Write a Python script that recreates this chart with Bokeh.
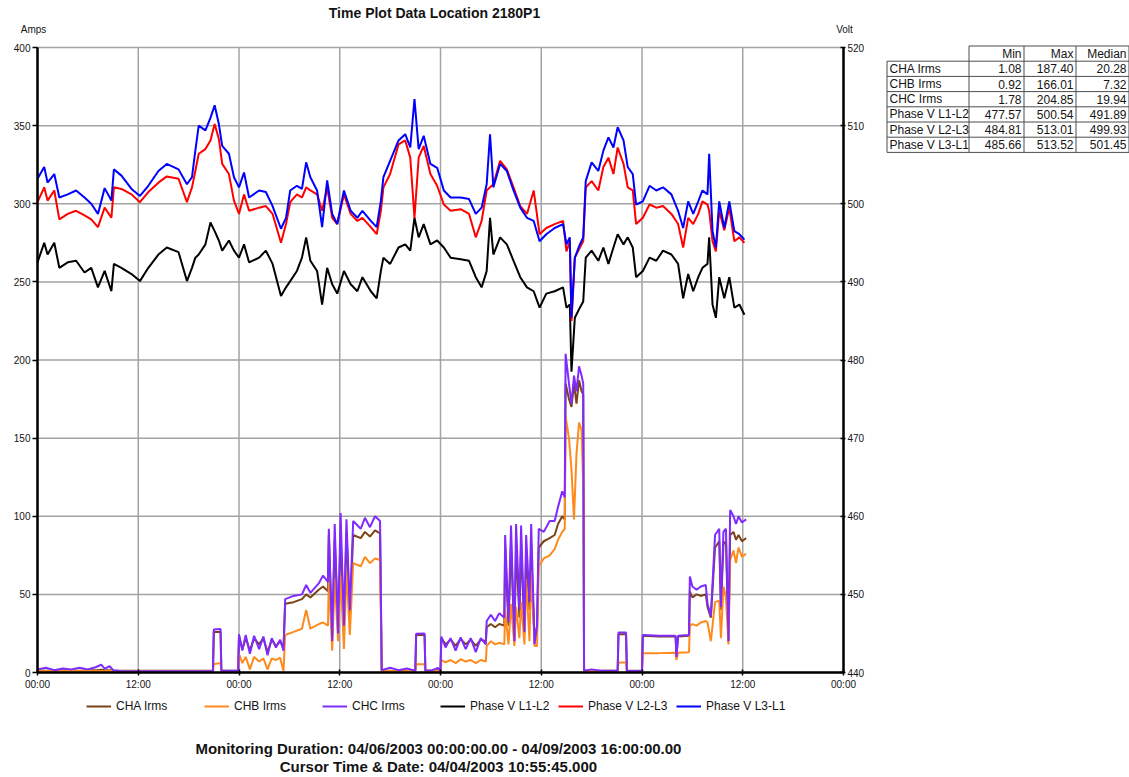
import numpy as np
from bokeh.plotting import figure
from bokeh.models import Range1d, LinearAxis, Label, Legend, LegendItem, FixedTicker
from bokeh.embed import file_html
from bokeh.resources import INLINE
from bokeh.core.properties import value

FONT = "Liberation Sans"

# ---------------- text ----------------
title_text = "Time Plot Data Location 2180P1"
left_unit = "Amps"
right_unit = "Volt"
duration_text = "Monitoring Duration:  04/06/2003 00:00:00.00 - 04/09/2003 16:00:00.00"
cursor_text = "Cursor Time & Date:  04/04/2003 10:55:45.000"

# ---------------- ticks ----------------
tick_hours = [0, 12, 24, 36, 48, 60, 72, 84, 96]
tick_labels = ["00:00", "12:00", "00:00", "12:00", "00:00", "12:00", "00:00", "12:00", "00:00"]
amps_ticks = [0, 50, 100, 150, 200, 250, 300, 350, 400]
volt_ticks = [440, 450, 460, 470, 480, 490, 500, 510, 520]

# ---------------- voltages (hours from 04/06 00:00) ----------------
v_hours = [0, 0.8, 1.2, 2, 2.6, 3.6, 4.6, 5.6, 6.4, 7.2, 8, 8.8, 9.1, 10, 11.2, 12.2, 13.2, 14.4,
           15.4, 16.8, 17.8, 18.4, 18.8, 19.2, 20, 20.6, 21.1, 21.6, 22, 22.8, 23.4, 24, 24.6, 25.2,
           26.4, 27.2, 28, 29, 29.6,
           30.1, 30.9, 31.5, 32, 32.5, 33.3, 33.9, 34.5, 35.1, 35.7, 36.5, 37.3, 38.1, 38.7, 39.7,
           40.4, 40.9, 41.2, 42, 43, 43.8, 44.4, 44.9, 45.4, 46, 46.8, 47.6, 48.4, 49.2, 50.4, 51.4,
           52.2, 52.9, 53.5, 53.9, 54.3, 55.1, 55.9, 56.7, 57.5, 58.3, 59.1,
           59.8, 60.6, 61.6, 62.6, 63, 63.4, 63.6, 64, 64.6, 65, 65.3, 66, 66.8, 67.4, 68, 68.6, 69.1,
           69.8, 70.3, 70.9, 71.3, 72.1, 72.9, 73.7, 74.5, 75.5, 76.3, 76.9, 77.5, 78.1, 78.7, 79.2,
           79.8, 80, 80.4, 80.8, 81.2, 81.8, 82.4, 83, 83.6, 84.2]

v_l3l1 = [503.2, 504.7, 502.7, 503.8, 500.8, 501.2, 501.7, 500.8, 500.0, 498.7, 502.0, 500.4, 504.4,
          503.6, 501.9, 501.0, 502.3, 504.2, 505.1, 504.4, 502.5, 503.4, 506.8, 510.0, 509.4, 511.0,
          512.6, 510.2, 507.4, 506.4, 503.4, 502.1, 504.0, 500.8, 501.7, 501.5, 499.7, 496.8, 498.2,
          501.7, 502.3, 501.9, 505.3, 503.4, 501.7, 497.0, 503.0, 498.7, 497.4, 501.7, 499.1, 498.2,
          499.1, 497.8, 497.0, 500.4, 503.4, 505.5, 508.1, 508.9, 507.2, 513.4, 507.0, 508.7, 505.1,
          504.6, 501.7, 500.8, 500.8, 500.6, 498.7, 499.5, 502.5, 508.9, 502.1, 505.1, 504.2, 501.7,
          499.5, 498.2, 497.8,
          495.2, 496.1, 496.9, 497.4, 494.8, 495.7, 485.4, 493.1, 494.8, 495.7, 502.9, 505.3, 504.2,
          506.8, 508.5, 507.2, 509.8, 508.1, 504.7, 503.8, 499.9, 500.3, 502.3, 501.7, 502.1, 501.2,
          499.1, 496.9, 500.3, 498.7, 500.3, 501.7, 501.2, 506.4, 496.5, 494.4, 500.3, 496.9, 500.3,
          496.5, 496.1, 495.4]

v_l2l3 = [500.2, 502.1, 500.4, 501.7, 498.0, 498.7, 499.1, 498.5, 498.0, 497.0, 499.5, 498.2, 502.1,
          501.9, 501.2, 500.2, 501.5, 502.7, 503.5, 503.2, 500.2, 502.1, 504.2, 506.4, 507.0, 508.1,
          510.2, 508.3, 505.1, 503.8, 500.4, 498.7, 501.2, 499.1, 499.5, 499.7, 498.7, 495.0, 497.4,
          500.2, 501.2, 500.8, 502.1, 501.7, 501.2, 499.1, 502.1, 498.2, 497.4, 501.2, 498.7, 497.8,
          498.2, 497.0, 496.1, 499.1, 502.1, 503.8, 507.6, 508.1, 505.9, 498.2, 505.9, 507.4, 503.8,
          502.3, 499.9, 499.1, 499.3, 498.7, 495.7, 497.8, 501.7, 502.1, 502.5, 505.5, 504.4, 502.1,
          499.7, 498.7, 501.7,
          496.1, 496.9, 497.4, 497.8, 493.9, 495.2, 485.0, 493.1, 494.4, 495.2, 502.1, 502.9, 501.7,
          504.7, 505.9, 503.8, 507.2, 505.1, 502.1, 501.7, 497.4, 498.2, 499.9, 499.5, 499.7, 498.7,
          497.4, 494.4, 498.2, 497.4, 498.7, 500.3, 499.9, 499.1, 495.2, 493.9, 499.1, 496.6, 499.5,
          495.2, 495.7, 495.0]

v_l1l2 = [492.5, 495.0, 493.5, 495.0, 491.8, 492.5, 492.7, 491.2, 491.8, 489.3, 491.4, 488.8, 492.3,
          491.8, 491.0, 490.1, 491.8, 493.5, 494.4, 493.8, 490.1, 491.8, 493.1, 493.5, 494.8, 497.6,
          496.5, 495.3, 494.0, 495.3, 494.0, 493.1, 494.8, 492.5, 493.1, 494.0, 492.3, 488.2, 489.3,
          490.1, 491.4, 493.1, 495.7, 492.7, 491.4, 487.1, 491.8, 489.7, 488.5, 491.4, 489.7, 488.8,
          490.6, 488.8, 487.9, 491.4, 493.1, 492.3, 494.4, 494.8, 494.0, 498.2, 495.7, 497.4, 494.8,
          495.3, 494.4, 493.1, 492.9, 492.7, 490.6, 489.3, 491.4, 498.2, 493.5, 495.7, 494.8, 492.7,
          490.6, 489.3, 488.8,
          486.7, 488.5, 488.8, 489.3, 486.7, 487.1, 478.5, 485.4, 486.7, 487.5, 493.1, 494.0, 492.7,
          494.4, 492.3, 494.4, 496.1, 494.8, 495.7, 494.4, 490.6, 491.4, 493.1, 492.7, 494.0, 493.5,
          492.3, 487.9, 491.0, 488.8, 490.6, 491.8, 492.3, 495.7, 487.1, 485.4, 490.6, 487.9, 490.6,
          486.7, 487.1, 485.8]

# ---------------- currents ----------------
i_hours = [0.0, 1.0, 2.0, 3.0, 4.0, 5.0, 6.0, 7.0, 7.6, 8.0, 8.6, 9.0, 10.0, 15.0, 20.9,
           21.0, 21.8, 21.9, 23.9,
           24.0, 24.4, 24.8, 25.3, 25.8, 26.4, 26.9, 27.4, 27.9, 28.4, 28.9, 29.3,
           29.5, 30.5, 31.5, 32.0, 32.5, 33.5, 34.0, 34.6,
           34.7, 35.1, 35.4, 35.8, 36.1, 36.5, 36.8, 37.2, 37.6, 38.5, 39.0, 39.6, 40.2, 40.8,
           41.0, 42.0, 43.0, 44.0, 45.0, 45.1, 46.1, 46.2, 47.0, 47.7, 48.0,
           48.1, 48.6, 49.2, 49.8, 50.4, 51.0, 51.6, 52.2, 52.8, 53.4,
           53.5, 54.0, 54.5, 55.0, 55.6,
           55.7, 56.1, 56.4, 56.8, 57.0, 57.4, 57.6, 58.0, 58.2, 58.6, 58.8, 59.2, 59.5,
           59.7, 60.3, 61.0, 61.6, 62.0, 62.5, 62.8,
           62.9, 63.3, 63.6, 63.9, 64.2, 64.5, 64.8, 65.0,
           65.1, 66.0, 67.0, 68.0, 69.1, 69.2, 70.1, 70.2, 72.0,
           72.1, 74.0, 76.0, 76.1, 76.3, 77.6,
           77.7, 78.0, 78.5, 79.0, 79.6, 79.8, 80.2,
           80.7, 81.2, 81.4, 81.7, 82.0, 82.3, 82.5, 82.9, 83.2, 83.5, 83.9, 84.4]

cha = [1.5, 1.2, 1.5, 1.3, 1.4, 1.2, 1.5, 1.4, 1.8, 1.4, 1.5, 1.1, 1.1, 1.1, 1.1,
       26.0, 26.0, 1.1, 1.1,
       23.0, 15.0, 22.0, 14.0, 22.0, 18.0, 22.0, 13.0, 21.0, 17.0, 20.0, 16.0,
       44.0, 45.0, 47.0, 50.0, 48.0, 53.0, 55.0, 52.0,
       88.0, 22.0, 85.0, 30.0, 88.0, 28.0, 90.0, 35.0, 88.0, 86.0, 90.0, 87.0, 91.0, 89.0,
       1.2, 1.2, 1.0, 1.2, 1.1, 24.0, 24.0, 1.2, 1.1, 1.5, 1.1,
       22.0, 18.0, 21.0, 17.0, 21.5, 18.0, 21.0, 17.0, 21.0, 20.0,
       29.0, 31.0, 29.0, 31.0, 30.0,
       80.0, 30.0, 82.0, 20.0, 80.0, 35.0, 82.0, 25.0, 75.0, 40.0, 80.0, 20.0, 30.0,
       80.0, 84.0, 86.0, 88.0, 95.0, 100.0, 98.0,
       185.0, 175.0, 170.0, 185.0, 172.0, 187.0, 180.0, 178.0,
       1.2, 1.1, 1.1, 1.1, 1.1, 24.5, 24.5, 1.1, 1.1,
       23.5, 23.0, 23.0, 11.0, 23.0, 23.5,
       52.0, 48.0, 50.0, 49.0, 50.0, 42.0, 35.0,
       80.0, 84.0, 40.0, 82.0, 84.0, 20.0, 88.0, 90.0, 85.0, 88.0, 84.0, 86.0]

chb = [1.0, 0.9, 1.0, 1.0, 1.0, 0.9, 1.0, 1.0, 1.0, 1.0, 1.0, 0.9, 0.9, 0.9, 0.9,
       5.5, 6.0, 0.9, 0.9,
       12.0, 6.0, 10.0, 2.0, 10.0, 7.0, 9.0, 2.0, 9.0, 8.0, 9.5, 1.0,
       24.0, 26.0, 28.0, 40.0, 28.0, 31.0, 32.0, 30.0,
       62.0, 14.0, 60.0, 20.0, 62.0, 15.0, 65.0, 24.0, 70.0, 68.0, 74.0, 70.0, 73.0, 72.0,
       0.9, 0.9, 0.9, 0.9, 0.9, 5.3, 5.3, 0.9, 0.9, 0.9, 0.9,
       8.0, 6.5, 8.0, 6.0, 8.5, 7.0, 8.0, 6.0, 8.0, 7.0,
       17.0, 20.0, 18.0, 19.0, 18.0,
       40.0, 18.0, 44.0, 17.0, 42.0, 22.0, 45.0, 18.0, 60.0, 20.0, 65.0, 17.0, 17.0,
       68.0, 73.0, 75.0, 79.0, 85.0, 90.0, 92.0,
       164.0, 150.0, 130.0, 98.0, 140.0, 160.0, 155.0, 120.0,
       0.9, 0.9, 0.9, 0.9, 0.9, 6.4, 6.4, 0.9, 0.9,
       12.4, 12.4, 12.6, 8.0, 12.6, 13.0,
       30.0, 31.0, 30.0, 32.0, 33.0, 32.0, 20.0,
       45.0, 46.0, 22.0, 55.0, 48.0, 18.0, 72.0, 78.0, 70.0, 80.0, 74.0, 76.0]

chc = [2.0, 3.0, 1.5, 2.5, 2.0, 3.0, 2.0, 3.5, 5.0, 2.5, 4.0, 1.5, 0.8, 0.8, 0.8,
       27.5, 27.8, 1.2, 1.2,
       24.5, 14.0, 24.0, 12.0, 23.5, 15.0, 23.0, 11.0, 22.0, 16.0, 21.0, 14.0,
       47.0, 49.0, 50.0, 56.0, 51.0, 57.0, 62.0, 58.0,
       92.0, 20.0, 95.0, 25.0, 102.0, 30.0, 98.0, 40.0, 97.0, 92.0, 99.0, 93.0, 100.0, 97.0,
       1.5, 3.0, 1.5, 2.5, 1.2, 24.8, 25.0, 1.2, 1.5, 3.0, 1.0,
       23.0, 16.0, 22.0, 14.0, 22.5, 15.0, 22.0, 13.0, 22.0, 18.0,
       33.0, 37.0, 33.0, 38.0, 35.0,
       88.0, 32.0, 94.0, 20.0, 95.0, 40.0, 94.0, 26.0, 88.0, 45.0, 95.0, 18.0, 30.0,
       92.0, 90.0, 97.0, 97.0, 106.0, 116.0, 112.0,
       204.0, 185.0, 172.0, 190.0, 180.0, 196.0, 190.0, 185.0,
       1.2, 2.0, 1.2, 1.2, 1.2, 25.6, 25.6, 1.0, 1.0,
       24.0, 23.5, 23.5, 10.0, 23.5, 24.0,
       61.5, 55.0, 53.0, 55.0, 56.0, 44.0, 36.0,
       88.0, 92.0, 42.0, 90.0, 92.0, 20.0, 104.0, 100.0, 95.0, 100.0, 96.0, 98.0]

# ---------------- statistics table ----------------
table_rows = ["CHA Irms", "CHB Irms", "CHC Irms", "Phase V L1-L2", "Phase V L2-L3", "Phase V L3-L1"]
table_min = [1.08, 0.92, 1.78, 477.57, 484.81, 485.66]
table_max = [187.40, 166.01, 204.85, 500.54, 513.01, 513.52]
table_median = [20.28, 7.32, 19.94, 491.89, 499.93, 501.45]
table_header = ["Min", "Max", "Median"]

# ---------------- styles / layout ----------------
C_CHA = "#7b4416"
C_CHB = "#ff8a1c"
C_CHC = "#7f2aff"
C_L1 = "#000000"
C_L2 = "#ff0000"
C_L3 = "#0000ff"
GRID = "#a3a3a3"
TXT = "#141414"

W, H = 1129, 777
PX_L, PX_R, PX_T, PX_B = 37, 843, 47, 672      # page pixels of the plotting area

# the whole canvas is the frame; ranges are extended so that the plotting area lands on the box above
hpp = (tick_hours[-1] - tick_hours[0]) / (PX_R - PX_L)
app = (amps_ticks[-1] - amps_ticks[0]) / (PX_B - PX_T)
vpp = (volt_ticks[-1] - volt_ticks[0]) / (PX_B - PX_T)
x_rng = Range1d(tick_hours[0] - PX_L * hpp, tick_hours[-1] + (W - PX_R) * hpp)
y_rng = Range1d(amps_ticks[0] - (H - PX_B) * app, amps_ticks[-1] + PX_T * app)
v_rng = Range1d(volt_ticks[0] - (H - PX_B) * vpp, volt_ticks[-1] + PX_T * vpp)

p = figure(width=W, height=H, min_border=0, x_range=x_rng, y_range=y_rng,
           x_axis_location=None, y_axis_location=None,
           output_backend="svg", toolbar_location=None, tools="")
p.extra_y_ranges = {"volt": v_rng, "py": Range1d(H, 0)}
p.extra_x_ranges = {"px": Range1d(0, W)}
p.outline_line_color = None
p.background_fill_color = "white"
p.border_fill_color = "white"
p.grid.visible = False

# grid lines of the plotting area
p.segment(x0=[tick_hours[0]] * len(amps_ticks), y0=amps_ticks, x1=[tick_hours[-1]] * len(amps_ticks),
          y1=amps_ticks, line_color=GRID, line_width=1.5)
p.segment(x0=tick_hours, y0=[amps_ticks[0]] * len(tick_hours), x1=tick_hours,
          y1=[amps_ticks[-1]] * len(tick_hours), line_color=GRID, line_width=1.5)


def style_axis(ax, tick_out, tick_in, standoff):
    ax.axis_line_width = 2.5
    ax.axis_line_color = "black"
    ax.major_tick_out = tick_out
    ax.major_tick_in = tick_in
    ax.major_tick_line_width = 1.5
    ax.minor_tick_line_color = None
    ax.major_label_standoff = standoff
    ax.major_label_text_font = FONT
    ax.major_label_text_font_size = "10px"
    ax.major_label_text_color = TXT


ya = LinearAxis(fixed_location=tick_hours[0], ticker=FixedTicker(ticks=amps_ticks),
                bounds=(amps_ticks[0], amps_ticks[-1]))
style_axis(ya, 5, 0, 2)
p.add_layout(ya, "left")

ra = LinearAxis(y_range_name="volt", fixed_location=tick_hours[-1],
                ticker=FixedTicker(ticks=volt_ticks), bounds=(volt_ticks[0], volt_ticks[-1]))
style_axis(ra, 2, 3, 2)
p.add_layout(ra, "right")

xa = LinearAxis(fixed_location=amps_ticks[0], ticker=FixedTicker(ticks=tick_hours),
                bounds=(tick_hours[0], tick_hours[-1]))
xa.major_label_overrides = {h: lab for h, lab in zip(tick_hours, tick_labels)}
style_axis(xa, 3, 3, 3)
p.add_layout(xa, "below")

# data lines
r_cha = p.line(i_hours, cha, line_color=C_CHA, line_width=2)
r_chb = p.line(i_hours, chb, line_color=C_CHB, line_width=2)
r_chc = p.line(i_hours, chc, line_color=C_CHC, line_width=2)
r_l1 = p.line(v_hours, v_l1l2, y_range_name="volt", line_color=C_L1, line_width=2)
r_l2 = p.line(v_hours, v_l2l3, y_range_name="volt", line_color=C_L2, line_width=2)
r_l3 = p.line(v_hours, v_l3l1, y_range_name="volt", line_color=C_L3, line_width=2)

legend = Legend(items=[LegendItem(label=table_rows[0], renderers=[r_cha]),
                       LegendItem(label=table_rows[1], renderers=[r_chb]),
                       LegendItem(label=table_rows[2], renderers=[r_chc]),
                       LegendItem(label=table_rows[3], renderers=[r_l1]),
                       LegendItem(label=table_rows[4], renderers=[r_l2]),
                       LegendItem(label=table_rows[5], renderers=[r_l3])],
                orientation="horizontal", location=(86, H - 714),
                glyph_width=25, glyph_height=16, label_height=16, label_width=80,
                label_standoff=5, spacing=8, padding=2, margin=0,
                label_text_font=FONT, label_text_font_size="12px", label_text_color=TXT,
                border_line_color=None, background_fill_alpha=0)
p.add_layout(legend)


def add_label(text, sx, sy, size, style="normal", align="center"):
    # sx, sy: page pixels from the top-left corner
    p.add_layout(Label(x=sx, y=H - sy, x_units="screen", y_units="screen", text=text,
                       text_font=FONT, text_font_size=size, text_font_style=style,
                       text_color=TXT, text_align=align, text_baseline="middle"))


add_label(title_text, 434, 12, "14px", "bold")
add_label(left_unit, 33, 29, "10px")
add_label(right_unit, 844, 29, "10px")
add_label(duration_text, 440, 748, "15px", "bold")
add_label(cursor_text, 440, 766, "15px", "bold")

# ---------------- statistics table (page-pixel ranges) ----------------
col_w = [82, 55, 52, 53]
x_edges = 886.5 + np.concatenate([[0], np.cumsum(col_w)])
top = 45.5
row_h = 15.2
n = len(table_rows)
y_edges = top + row_h * np.arange(n + 2)

hx0, hx1, hy0, hy1 = [], [], [], []
for k, yy in enumerate(y_edges):
    hx0.append(x_edges[1] if k == 0 else x_edges[0])
    hx1.append(x_edges[-1])
    hy0.append(yy)
    hy1.append(yy)
for k, xx in enumerate(x_edges):
    hx0.append(xx)
    hx1.append(xx)
    hy0.append(y_edges[1] if k == 0 else y_edges[0])
    hy1.append(y_edges[-1])
p.segment(x0=hx0, y0=hy0, x1=hx1, y1=hy1, x_range_name="px", y_range_name="py",
          line_color="#4d4d4d", line_width=1)

tkw = dict(x_range_name="px", y_range_name="py", text_font=value(FONT), text_font_size="12px",
           text_color=TXT, text_baseline="middle")
p.text(x=[x_edges[j + 2] - 2.5 for j in range(3)], y=[(y_edges[0] + y_edges[1]) / 2] * 3,
       text=table_header, text_align="right", **tkw)
ymid = [(y_edges[i + 1] + y_edges[i + 2]) / 2 for i in range(n)]
p.text(x=[x_edges[0] + 2.5] * n, y=ymid, text=table_rows, text_align="left", **tkw)
for j, col in enumerate([table_min, table_max, table_median]):
    p.text(x=[x_edges[j + 2] - 2.5] * n, y=ymid, text=[f"{v:.2f}" for v in col],
           text_align="right", **tkw)

open("out.html", "w").write(file_html(p, INLINE))
